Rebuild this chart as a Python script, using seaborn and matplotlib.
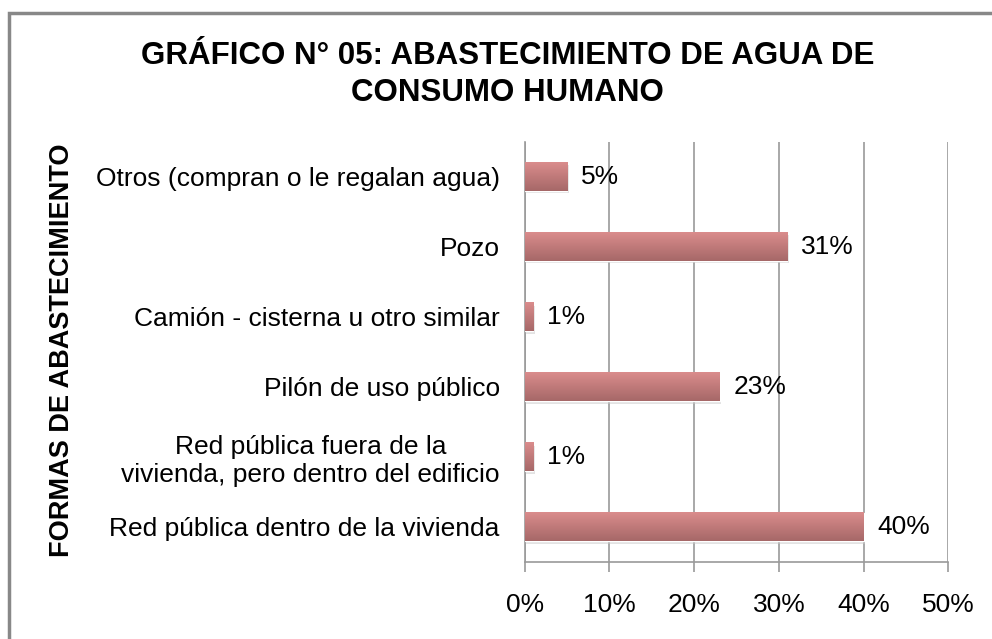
import numpy as np
import pandas as pd
import matplotlib
matplotlib.use("Agg")
import matplotlib.pyplot as plt
import seaborn as sns
from matplotlib.ticker import PercentFormatter
from matplotlib.patches import Rectangle

categorias = [
    "Otros (compran o le regalan agua)",
    "Pozo",
    "Camión - cisterna u otro similar",
    "Pilón de uso público",
    "Red pública fuera de la\nvivienda, pero dentro del edificio",
    "Red pública dentro de la vivienda",
]
porcentajes = [0.05, 0.31, 0.01, 0.23, 0.01, 0.40]
etiquetas = ["5%", "31%", "1%", "23%", "1%", "40%"]
ticks_x = [0.0, 0.1, 0.2, 0.3, 0.4, 0.5]

df = pd.DataFrame({"Forma": categorias, "Porcentaje": porcentajes})

sns.set_style("white")
plt.rcParams["font.family"] = ["Liberation Sans", "DejaVu Sans"]
plt.rcParams["text.color"] = "black"
plt.rcParams["xtick.labelcolor"] = "black"
plt.rcParams["ytick.labelcolor"] = "black"

fig = plt.figure(figsize=(9.92, 6.39), dpi=100)
ax = fig.add_axes([0.529, 0.1205, 0.427, 0.658])

sns.barplot(data=df, y="Forma", x="Porcentaje", orient="h", color="#C47878",
            width=0.4, ax=ax, zorder=3)

# degradado y sombra en cada barra, como en el original
cmap = matplotlib.colors.LinearSegmentedColormap.from_list("g", ["#DA8C8C", "#A66868"])
grad = np.linspace(0, 1, 64).reshape(-1, 1)
for p in ax.patches:
    x0, y0, w, h = p.get_x(), p.get_y(), p.get_width(), p.get_height()
    ax.add_patch(Rectangle((x0, y0 + 0.04), w + 0.002, h, facecolor="#c8c8c8",
                           alpha=0.5, edgecolor="none", zorder=2))
    ax.imshow(grad, cmap=cmap, aspect="auto", extent=(x0, x0 + w, y0 + h, y0),
              zorder=4)
    p.set_facecolor("none")

ax.bar_label(ax.containers[0], labels=etiquetas, padding=10, fontsize=19,
             color="black")

ax.set_xlim(0, 0.5)
ax.set_ylim(5.5, -0.5)
ax.set_xticks(ticks_x)
ax.xaxis.set_major_formatter(PercentFormatter(1.0, decimals=0))
ax.grid(axis="x", color="#9a9a9a", linewidth=1.2, zorder=0)
ax.set_axisbelow(True)
for s in ["top", "right"]:
    ax.spines[s].set_visible(False)
for s in ["left", "bottom"]:
    ax.spines[s].set_color("#9a9a9a")
    ax.spines[s].set_linewidth(1.2)
ax.tick_params(axis="x", length=7, width=1.2, color="#9a9a9a", pad=15,
               labelsize=19, bottom=True)
ax.tick_params(axis="y", length=0, pad=18, labelsize=19)
for t in ax.get_yticklabels():
    t.set_multialignment("center")
ax.set_xlabel("")
ax.set_ylabel("")

fig.text(0.512, 0.883, "GRÁFICO N° 05: ABASTECIMIENTO DE AGUA DE\nCONSUMO HUMANO",
         ha="center", va="center", fontsize=22.5, fontweight="bold",
         linespacing=1.3)
fig.text(0.0625, 0.452, "FORMAS DE ABASTECIMIENTO", rotation=90, ha="center",
         va="center", fontsize=19.5, fontweight="bold")

fig.add_artist(Rectangle((9 / 992, -0.1), 1.2, 1 - 13.5 / 639 + 0.1,
                         transform=fig.transFigure, fill=False,
                         edgecolor="#888888", linewidth=2.5))

fig.savefig("out.png", dpi=100)
